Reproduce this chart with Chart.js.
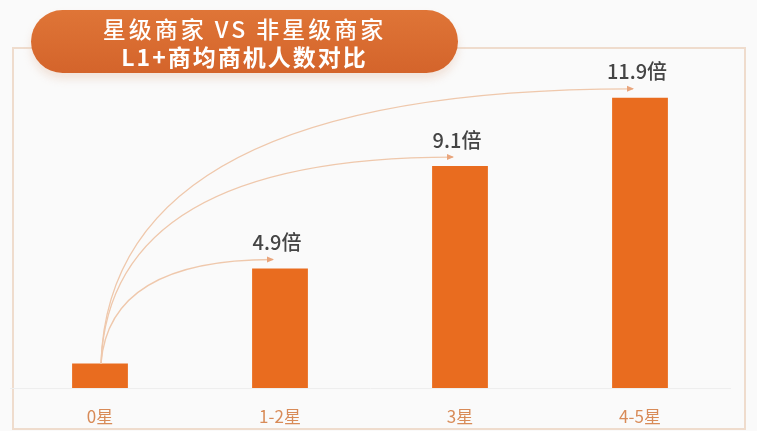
<!DOCTYPE html>
<html>
<head>
<meta charset="utf-8">
<script src="https://cdn.jsdelivr.net/npm/chart.js@4"></script>
<style>
  html, body { margin: 0; padding: 0; background: #fafafa; }
  #wrap { position: relative; width: 757px; height: 431px; overflow: hidden; }
  #frame { position: absolute; left: 12px; top: 47px; width: 730px; height: 379px;
           border: 2px solid #efdccd; }
  #banner { position: absolute; left: 31px; top: 10px; width: 427px; height: 63px;
            border-radius: 32px; background: linear-gradient(to bottom, #df7537, #d4642b);
            box-shadow: 0 6px 8px rgba(230,200,180,0.45);
            color: #fff; text-align: center; font-family: "Noto Sans CJK SC", sans-serif; }
  #banner .l1 { position: absolute; left: 0; right: 0; top: 4px; font-size: 23px; line-height: 28px;
                letter-spacing: 3px; font-weight: 500; }
  #banner .l2 { position: absolute; left: 0; right: 0; top: 32px; font-size: 23px; line-height: 28px;
                letter-spacing: 2px; font-weight: 700; }
  #myChart { position: absolute; left: 0; top: 0; }
</style>
</head>
<body>
<div id="wrap">
  <div id="frame"></div>
  <canvas id="myChart" width="757" height="431"></canvas>
  <div id="banner"><div class="l1">星级商家 VS 非星级商家</div><div class="l2">L1+商均商机人数对比</div></div>
</div>
<script>
var categories = ['0星', '1-2星', '3星', '4-5星'];
var values = [1, 4.9, 9.1, 11.9];
var multipleLabels = ['', '4.9倍', '9.1倍', '11.9倍'];

// curved arrows from the 0星 bar to each taller bar, plus the 倍 labels
var arrowPlugin = {
    id: 'arrows',
    afterDatasetsDraw: function(chart) {
        var ctx = chart.ctx;
        var meta = chart.getDatasetMeta(0);
        var start = meta.data[0];
        var sx = start.x + 1, sy = start.y;
        ctx.save();
        for (var i = 1; i < meta.data.length; i++) {
            var bar = meta.data[i];
            var ex = bar.x - 7, ey = bar.y - 9;
            ctx.beginPath();
            ctx.moveTo(sx, sy);
            ctx.quadraticCurveTo(sx + 8, ey, ex, ey);
            ctx.strokeStyle = '#efc8ac';
            ctx.lineWidth = 1.3;
            ctx.stroke();
            ctx.beginPath();
            ctx.moveTo(ex + 1, ey);
            ctx.lineTo(ex - 6, ey - 3);
            ctx.lineTo(ex - 6, ey + 3);
            ctx.closePath();
            ctx.fillStyle = '#e9a57c';
            ctx.fill();

            ctx.fillStyle = '#444444';
            ctx.font = '500 20px "Noto Sans CJK SC"';
            ctx.textAlign = 'center';
            ctx.textBaseline = 'middle';
            ctx.fillText(multipleLabels[i], bar.x - 3, bar.y - 26);
        }
        ctx.restore();
    }
};

var chartData = {
    labels: categories,
    datasets: [
        {
            label: 'L1+商均商机人数',
            backgroundColor: '#e96c1f',
            borderWidth: 0,
            data: values,
            categoryPercentage: 1,
            barPercentage: 0.31
        }
    ]
};

var barGraph = new Chart(document.getElementById('myChart'), {
    type: 'bar',
    data: chartData,
    plugins: [arrowPlugin],
    options: {
        responsive: false,
        animation: false,
        layout: { padding: { left: 10, right: 27, top: 71, bottom: 6 } },
        plugins: { legend: { display: false }, tooltip: { enabled: false } },
        scales: {
            x: {
                afterFit: function(scale) { scale.height = 37; },
                grid: { display: false, drawTicks: false },
                border: { display: true, color: '#eeeeee', width: 1 },
                ticks: { color: '#d88b58', padding: 18, font: { size: 17, family: 'Noto Sans CJK SC' } }
            },
            y: { display: false, min: 0, max: 13 }
        }
    }
});
</script>
</body>
</html>
